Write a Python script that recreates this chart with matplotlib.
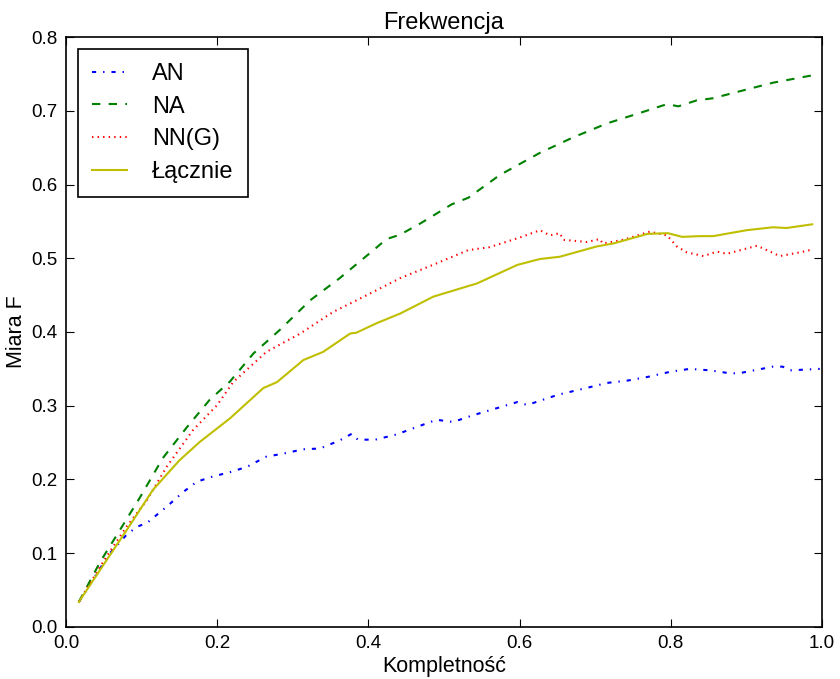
import matplotlib
matplotlib.use("Agg")
import matplotlib.pyplot as plt

plt.rcParams['font.family'] = ['Liberation Sans', 'DejaVu Sans']
plt.rcParams['lines.scale_dashes'] = False

# AN
an_x = [0.017, 0.041, 0.058, 0.08, 0.094, 0.107, 0.133, 0.155, 0.173, 0.194,
        0.217, 0.239, 0.265, 0.287, 0.314, 0.336, 0.362, 0.378, 0.386, 0.409,
        0.437, 0.49, 0.512, 0.538, 0.597, 0.61, 0.651, 0.684, 0.716, 0.742,
        0.769, 0.799, 0.825, 0.852, 0.878, 0.89, 0.935, 0.948, 0.958, 0.997]
an_y = [0.034, 0.073, 0.1, 0.125, 0.136, 0.141, 0.163, 0.183, 0.197, 0.204,
        0.21, 0.217, 0.231, 0.235, 0.241, 0.242, 0.253, 0.262, 0.254, 0.254,
        0.261, 0.281, 0.278, 0.287, 0.305, 0.301, 0.315, 0.323, 0.331, 0.334,
        0.339, 0.346, 0.35, 0.348, 0.344, 0.344, 0.353, 0.353, 0.348, 0.35]

# NA
na_x = [0.017, 0.045, 0.071, 0.098, 0.128, 0.16, 0.19, 0.217, 0.248, 0.283,
        0.323, 0.362, 0.402, 0.424, 0.442, 0.47, 0.51, 0.532, 0.574, 0.627,
        0.671, 0.716, 0.759, 0.795, 0.81, 0.834, 0.856, 0.882, 0.935, 0.987]
na_y = [0.034, 0.088, 0.131, 0.176, 0.229, 0.271, 0.308, 0.333, 0.371, 0.403,
        0.443, 0.473, 0.507, 0.526, 0.532, 0.548, 0.573, 0.582, 0.613, 0.643,
        0.664, 0.683, 0.697, 0.709, 0.706, 0.714, 0.717, 0.724, 0.738, 0.748]

# NN(G)
nn_x = [0.017, 0.05, 0.08, 0.107, 0.133, 0.168, 0.2, 0.221, 0.265, 0.31,
        0.353, 0.398, 0.442, 0.49, 0.532, 0.56, 0.6, 0.627, 0.64, 0.653,
        0.658, 0.689, 0.706, 0.71, 0.737, 0.772, 0.795, 0.808, 0.821, 0.843,
        0.861, 0.874, 0.914, 0.927, 0.944, 0.971, 0.988]
nn_y = [0.034, 0.09, 0.136, 0.172, 0.217, 0.267, 0.301, 0.332, 0.373, 0.398,
        0.427, 0.45, 0.473, 0.493, 0.511, 0.515, 0.528, 0.538, 0.531, 0.534,
        0.525, 0.522, 0.526, 0.52, 0.525, 0.536, 0.531, 0.516, 0.508, 0.503,
        0.509, 0.506, 0.517, 0.511, 0.503, 0.508, 0.512]

# Łącznie
all_x = [0.017, 0.05, 0.08, 0.115, 0.15, 0.177, 0.217, 0.261, 0.279, 0.314,
         0.34, 0.376, 0.384, 0.411, 0.442, 0.486, 0.544, 0.597, 0.627, 0.653,
         0.702, 0.724, 0.769, 0.796, 0.815, 0.839, 0.856, 0.9, 0.935, 0.953,
         0.987]
all_y = [0.034, 0.085, 0.131, 0.186, 0.226, 0.251, 0.283, 0.324, 0.332, 0.362,
         0.373, 0.398, 0.399, 0.412, 0.425, 0.448, 0.466, 0.491, 0.499, 0.502,
         0.516, 0.52, 0.533, 0.534, 0.529, 0.53, 0.53, 0.538, 0.542, 0.541,
         0.546]

fig = plt.figure(figsize=(8.4, 6.79), dpi=100)
ax = fig.add_axes([0.0786, 0.0766, 0.9, 0.8689])

ax.plot(an_x, an_y, color='b', lw=1.5, dashes=(3, 5, 1, 5), label='AN')
ax.plot(na_x, na_y, color='g', lw=1.5, dashes=(6, 6), label='NA')
ax.plot(nn_x, nn_y, color='r', lw=1.5, dashes=(1, 3), label='NN(G)')
ax.plot(all_x, all_y, color=(0.75, 0.75, 0), lw=1.5, label='Łącznie')

ax.set_xlim(0, 1)
ax.set_ylim(0, 0.8)
ax.set_xticks([0, 0.2, 0.4, 0.6, 0.8, 1.0])
ax.set_yticks([0, 0.1, 0.2, 0.3, 0.4, 0.5, 0.6, 0.7, 0.8])
ax.tick_params(direction='in', top=True, right=True, length=5.5, labelsize=13.5, pad=6)
for s in ax.spines.values():
    s.set_linewidth(1.2)

ax.set_title('Frekwencja', fontsize=17, pad=6)
ax.set_xlabel('Kompletność', fontsize=15.5, labelpad=3)
ax.set_ylabel('Miara F', fontsize=15.5, labelpad=3)

leg = ax.legend(loc='upper left', fontsize=17, fancybox=False, framealpha=1,
                edgecolor='black', handlelength=1.5, handletextpad=1.05,
                labelspacing=0.45, borderaxespad=0.5, borderpad=0.6)
leg.get_frame().set_linewidth(1.2)

fig.savefig('out.png', dpi=100, facecolor='white')
